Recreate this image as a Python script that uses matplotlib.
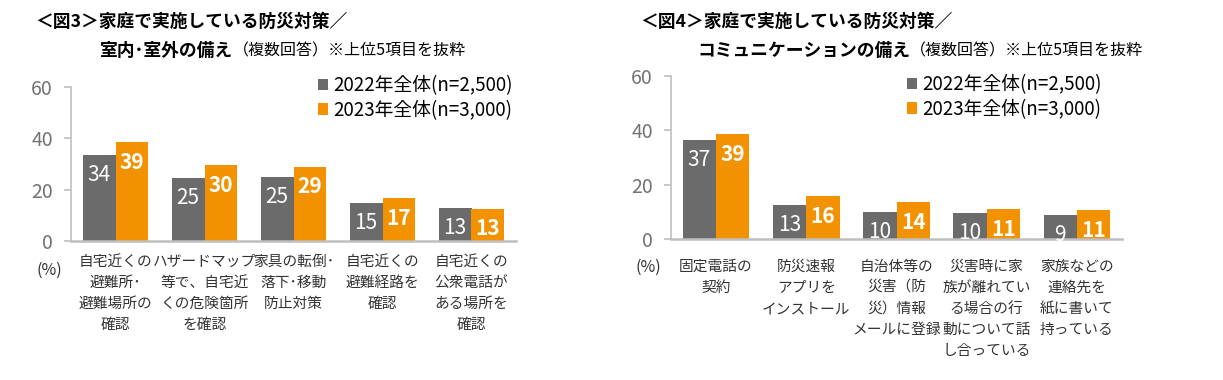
import matplotlib
matplotlib.use('Agg')
import matplotlib.pyplot as plt
import numpy as np

plt.rcParams['font.family'] = ['Noto Sans CJK JP', 'DejaVu Sans']

# ---------- colours ----------
GRAY = '#6b6b6b'
ORANGE = '#f39200'
AXIS_COLOR = '#bfbfbf'
TICK_TEXT = '#737373'
LABEL_TEXT = '#333333'

# ---------- data ----------
series_names = ['2022年全体(n=2,500)', '2023年全体(n=3,000)']

fig3_cats = [
  '自宅近くの\n避難所･\n避難場所の\n確認',
  'ハザードマップ\n等で、自宅近\nくの危険箇所\nを確認',
  '家具の転倒･\n落下･移動\n防止対策',
  '自宅近くの\n避難経路を\n確認',
  '自宅近くの\n公衆電話が\nある場所を\n確認',
]
fig3_2022 = [33.6, 24.7, 24.9, 15.0, 12.8]
fig3_2023 = [38.6, 29.6, 29.0, 16.6, 12.6]

fig4_cats = [
  '固定電話の\n契約',
  '防災速報\nアプリを\nインストール',
  '自治体等の\n災害（防\n災）情報\nメールに登録',
  '災害時に家\n族が離れてい\nる場合の行\n動について話\nし合っている',
  '家族などの\n連絡先を\n紙に書いて\n持っている',
]
fig4_2022 = [36.6, 12.6, 10.0, 9.6, 8.8]
fig4_2023 = [38.6, 15.8, 13.6, 10.9, 10.6]

y_ticks = [0, 20, 40, 60]


def draw_panel(ax, cats, v22, v23, xpad):
  x = np.arange(len(cats))
  w = 0.37
  b1 = ax.bar(x - w / 2, v22, w, color=GRAY, label=series_names[0])
  b2 = ax.bar(x + w / 2, v23, w, color=ORANGE, label=series_names[1])
  for bars, vals, weight in ((b1, v22, 'normal'), (b2, v23, 'bold')):
    for rect, v in zip(bars, vals):
      ax.annotate(f'{v:.0f}', (rect.get_x() + rect.get_width() / 2, v),
                  xytext=(0, -14.5), textcoords='offset points',
                  ha='center', va='center', color='white',
                  fontsize=15, fontweight=weight)

  ax.set_xlim(-0.5, len(cats) - 0.5)
  ax.set_ylim(0, 60)
  ax.set_yticks(y_ticks)
  ax.set_xticks(x)
  ax.set_xticklabels(cats, fontsize=10.6, color=LABEL_TEXT, linespacing=1.65)
  ax.tick_params(axis='x', length=0, pad=xpad)
  ax.tick_params(axis='y', length=5, width=1.2, color=AXIS_COLOR, labelcolor=TICK_TEXT,
                 labelsize=14, pad=8)
  for s in ('top', 'right'):
    ax.spines[s].set_visible(False)
  ax.spines['left'].set_color(AXIS_COLOR)
  ax.spines['left'].set_linewidth(1.2)
  ax.spines['bottom'].set_color(AXIS_COLOR)
  ax.spines['bottom'].set_linewidth(1.8)


fig = plt.figure(figsize=(12.23, 3.80), dpi=100)
W, H = 1223, 380

ax3 = fig.add_axes([71 / W, (H - 241) / H, 445 / W, 154 / H])
ax4 = fig.add_axes([671 / W, (H - 239) / H, 451 / W, 163 / H])

draw_panel(ax3, fig3_cats, fig3_2022, fig3_2023, xpad=10)
draw_panel(ax4, fig4_cats, fig4_2022, fig4_2023, xpad=15)

# ---------- legends ----------
for ax, lx, ly in ((ax3, 318, 75), (ax4, 907, 74)):
  ax.legend(loc='upper left', bbox_to_anchor=(lx / W, 1 - ly / H), bbox_transform=fig.transFigure,
            frameon=False, fontsize=13.5, handlelength=0.55, handleheight=0.55,
            handletextpad=0.25, labelspacing=0.2, borderpad=0, borderaxespad=0)

# ---------- titles ----------
fig.text(35 / W, 1 - 22 / H, '＜図3＞家庭で実施している防災対策／', fontsize=12.8, fontweight='bold',
         va='center', ha='left')
s3 = fig.text(100 / W, 1 - 51 / H, '室内･室外の備え', fontsize=12.8, fontweight='bold', va='center', ha='left')
ax3.annotate('（複数回答）※上位5項目を抜粋', xy=(1, 0.5), xycoords=s3, va='center', ha='left', fontsize=11.5)

fig.text(640 / W, 1 - 22 / H, '＜図4＞家庭で実施している防災対策／', fontsize=12.8, fontweight='bold',
         va='center', ha='left')
s4 = fig.text(697 / W, 1 - 51 / H, 'コミュニケーションの備え', fontsize=12.8, fontweight='bold',
              va='center', ha='left')
ax4.annotate('（複数回答）※上位5項目を抜粋', xy=(1, 0.5), xycoords=s4, va='center', ha='left', fontsize=11.5)

# ---------- (%) units ----------
fig.text(49 / W, 1 - 270 / H, '(%)', fontsize=11.5, color=LABEL_TEXT, ha='center', va='center')
fig.text(648 / W, 1 - 267 / H, '(%)', fontsize=11.5, color=LABEL_TEXT, ha='center', va='center')

fig.savefig('out.png', dpi=100)
